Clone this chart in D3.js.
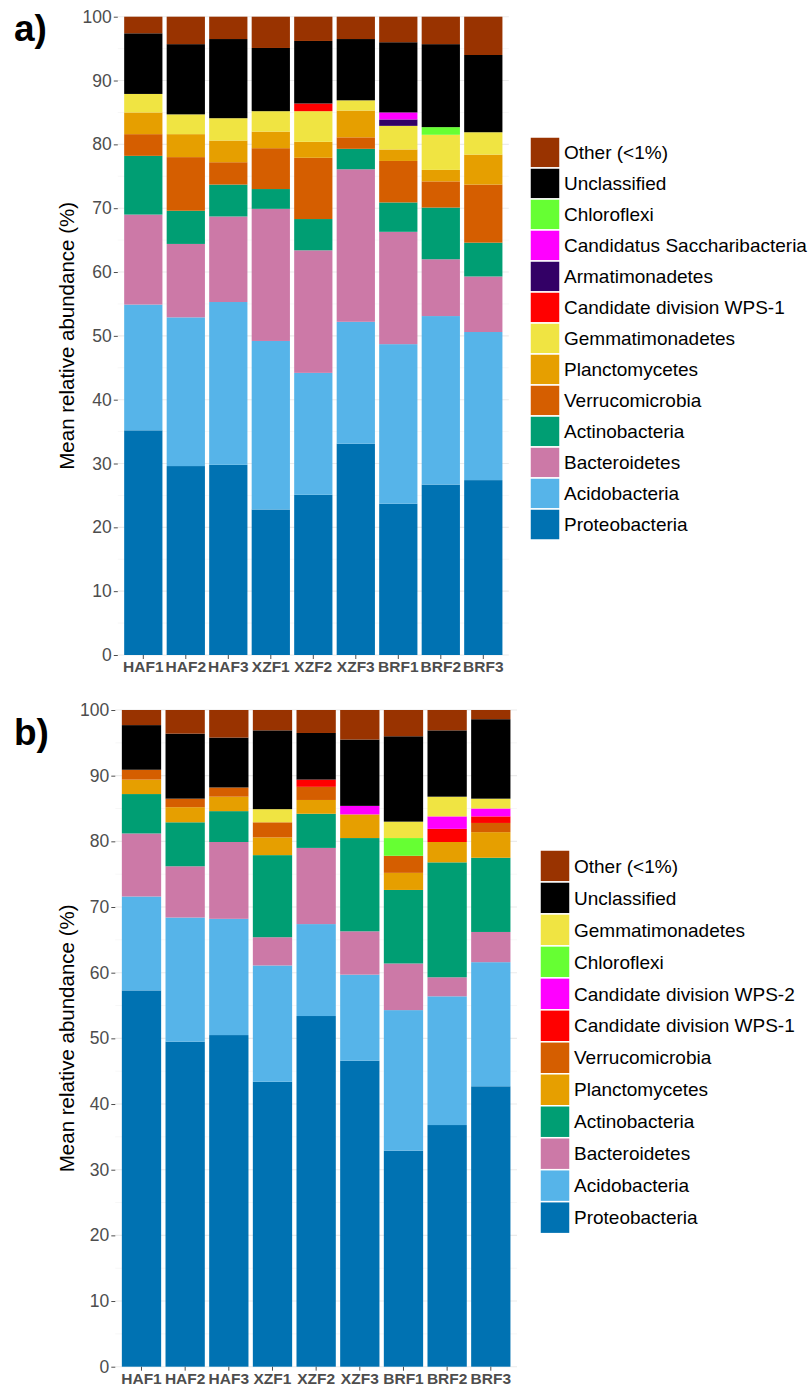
<!DOCTYPE html>
<html><head><meta charset="utf-8">
<script src="https://cdn.jsdelivr.net/npm/d3@7"></script>
<style>body{margin:0;background:#fff;} svg{display:block;font-family:"Liberation Sans",Arial,sans-serif;}</style>
</head><body><svg id="c" width="810" height="1387"></svg>
<script>
const samples = ["HAF1","HAF2","HAF3","XZF1","XZF2","XZF3","BRF1","BRF2","BRF3"];
const yTicks = [0,10,20,30,40,50,60,70,80,90,100];

// Panel a) taxa, bottom to top of stack
const taxaA = ["Proteobacteria","Acidobacteria","Bacteroidetes","Actinobacteria","Verrucomicrobia","Planctomycetes","Gemmatimonadetes","Candidate division WPS-1","Armatimonadetes","Candidatus Saccharibacteria","Chloroflexi","Unclassified","Other (<1%)"];
const aProteobacteria   = [35.2,29.6,29.8,22.8,25.1,33.1,23.7,26.7,27.4];
const aAcidobacteria    = [19.7,23.3,25.5,26.4,19.1,19.1,25.0,26.4,23.2];
const aBacteroidetes    = [14.1,11.5,13.4,20.7,19.2,23.9,17.6,8.9,8.7];
const aActinobacteria   = [9.2,5.2,5.0,3.1,4.9,3.2,4.6,8.1,5.3];
const aVerrucomicrobia  = [3.4,8.4,3.5,6.4,9.6,1.8,6.5,4.1,9.1];
const aPlanctomycetes   = [3.4,3.6,3.4,2.6,2.5,4.2,1.8,1.8,4.7];
const aGemmatimonadetes = [2.9,3.1,3.5,3.2,4.8,1.6,3.7,5.5,3.5];
const aWPS1             = [0,0,0,0,1.2,0,0,0,0];
const aArmatimonadetes  = [0,0,0,0,0,0,1.0,0,0];
const aSaccharibacteria = [0,0,0,0,0,0,1.1,0,0];
const aChloroflexi      = [0,0,0,0,0,0,0,1.2,0];
const aUnclassified     = [9.5,11.0,12.4,9.9,9.8,9.6,11.0,13.0,12.1];
const aOther            = [2.6,4.3,3.5,4.9,3.8,3.5,4.0,4.3,6.0];

// Panel b) taxa, bottom to top of stack
const taxaB = ["Proteobacteria","Acidobacteria","Bacteroidetes","Actinobacteria","Planctomycetes","Verrucomicrobia","Candidate division WPS-1","Candidate division WPS-2","Chloroflexi","Gemmatimonadetes","Unclassified","Other (<1%)"];
const bProteobacteria   = [57.3,49.5,50.5,43.4,53.4,46.6,32.9,36.8,42.7];
const bAcidobacteria    = [14.3,18.9,17.7,17.7,14.0,13.1,21.4,19.6,18.9];
const bBacteroidetes    = [9.6,7.8,11.7,4.3,11.6,6.6,7.1,2.9,4.6];
const bActinobacteria   = [6.0,6.7,4.7,12.5,5.2,14.2,11.2,17.5,11.3];
const bPlanctomycetes   = [2.2,2.3,2.2,2.7,2.1,3.6,2.6,3.1,3.9];
const bVerrucomicrobia  = [1.5,1.3,1.4,2.3,2.0,0,2.6,0,1.4];
const bWPS1             = [0,0,0,0,1.1,0,0,2.0,1.0];
const bWPS2             = [0,0,0,0,0,1.3,0,1.9,1.2];
const bChloroflexi      = [0,0,0,0,0,0,2.7,0,0];
const bGemmatimonadetes = [0,0,0,2.0,0,0,2.5,3.0,1.5];
const bUnclassified     = [6.8,9.9,7.6,12.0,7.1,10.1,13.0,10.1,12.1];
const bOther            = [2.3,3.6,4.2,3.1,3.5,4.5,4.0,3.1,1.4];

const colors = {
  "Other (<1%)":"#993300","Unclassified":"#000000","Chloroflexi":"#66FF33",
  "Candidatus Saccharibacteria":"#FF00FF","Armatimonadetes":"#330066",
  "Candidate division WPS-1":"#FF0000","Candidate division WPS-2":"#FF00FF",
  "Gemmatimonadetes":"#F0E442","Planctomycetes":"#E69F00","Verrucomicrobia":"#D55E00",
  "Actinobacteria":"#009E73","Bacteroidetes":"#CC79A7","Acidobacteria":"#56B4E9","Proteobacteria":"#0072B2"
};

const seriesA = [aProteobacteria,aAcidobacteria,aBacteroidetes,aActinobacteria,aVerrucomicrobia,aPlanctomycetes,aGemmatimonadetes,aWPS1,aArmatimonadetes,aSaccharibacteria,aChloroflexi,aUnclassified,aOther];
const seriesB = [bProteobacteria,bAcidobacteria,bBacteroidetes,bActinobacteria,bPlanctomycetes,bVerrucomicrobia,bWPS1,bWPS2,bChloroflexi,bGemmatimonadetes,bUnclassified,bOther];

function buildRows(taxa, series){
  return samples.map((s,i)=>{ const r={sample:s}; taxa.forEach((t,j)=>r[t]=series[j][i]); return r; });
}

const svg = d3.select("#c");

function panel(cfg){
  const {taxa, series, x0, x1, yTop, yBot, label, labelY, legX, legY, legStep} = cfg;
  const g = svg.append("g");
  const x = d3.scaleBand().domain(samples).range([x0,x1]).paddingInner(0.1).paddingOuter(0.15);
  const y = d3.scaleLinear().domain([0,100]).range([yBot,yTop]);
  // grid
  const minor = d3.range(5,100,10);
  g.selectAll(".gmin").data(minor).enter().append("line")
    .attr("x1",x0).attr("x2",x1).attr("y1",d=>y(d)).attr("y2",d=>y(d))
    .attr("stroke","#f2f2f2").attr("stroke-width",0.6);
  g.selectAll(".gmaj").data(yTicks).enter().append("line")
    .attr("x1",x0).attr("x2",x1).attr("y1",d=>y(d)).attr("y2",d=>y(d))
    .attr("stroke","#ebebeb").attr("stroke-width",1.1);
  const rows = buildRows(taxa, series);
  const stacked = d3.stack().keys(taxa)(rows);
  g.selectAll(".layer").data(stacked).enter().append("g")
    .attr("fill",d=>colors[d.key])
    .selectAll("rect").data(d=>d.filter(p=>p[1]-p[0]>0)).enter().append("rect")
    .attr("x",d=>x(d.data.sample)).attr("width",x.bandwidth())
    .attr("y",d=>y(d[1])).attr("height",d=>y(d[0])-y(d[1]));
  // axes
  const ya = g.append("g").attr("transform",`translate(${x0},0)`)
    .call(d3.axisLeft(y).tickValues(yTicks).tickSize(4).tickPadding(2));
  ya.select(".domain").remove();
  ya.selectAll("line").attr("stroke","#4d4d4d");
  ya.selectAll("text").attr("fill","#4d4d4d").style("font-size","17.5px").style("font-family","Liberation Sans, Arial");
  const xa = g.append("g").attr("transform",`translate(0,${yBot})`)
    .call(d3.axisBottom(x).tickSize(4).tickPadding(2));
  xa.select(".domain").remove();
  xa.selectAll("line").attr("stroke","#4d4d4d");
  xa.selectAll("text").attr("fill","#4d4d4d").style("font-size","15.5px").style("font-weight","bold").style("font-family","Liberation Sans, Arial");
  // y title
  g.append("text").attr("transform",`translate(74,${(yTop+yBot)/2}) rotate(-90)`)
    .attr("text-anchor","middle").style("font-size","20.5px").attr("fill","#000")
    .text("Mean relative abundance (%)");
  // panel label
  g.append("text").attr("x",14).attr("y",labelY).style("font-size","37px").style("font-weight","bold")
    .text(label);
  // legend (reverse order: top of stack first)
  const legItems = taxa.slice().reverse();
  const lg = g.append("g");
  legItems.forEach((t,i)=>{
    lg.append("rect").attr("x",legX).attr("y",legY+i*legStep).attr("width",30).attr("height",legStep)
      .attr("fill",colors[t]).attr("stroke","#fff").attr("stroke-width",1.5);
    lg.append("text").attr("x",legX+34).attr("y",legY+i*legStep+legStep/2).attr("dy","0.35em")
      .style("font-size","19px").attr("fill","#000").text(t);
  });
}

panel({taxa:taxaA, series:seriesA, x0:117.8, x1:508.8, yTop:16.7, yBot:655, label:"a)", labelY:41,
  legX:530, legY:137, legStep:31.0});
panel({taxa:taxaB, series:seriesB, x0:115.3, x1:517, yTop:710, yBot:1366.7, label:"b)", labelY:745,
  legX:540, legY:850, legStep:31.97});
</script></body></html>
